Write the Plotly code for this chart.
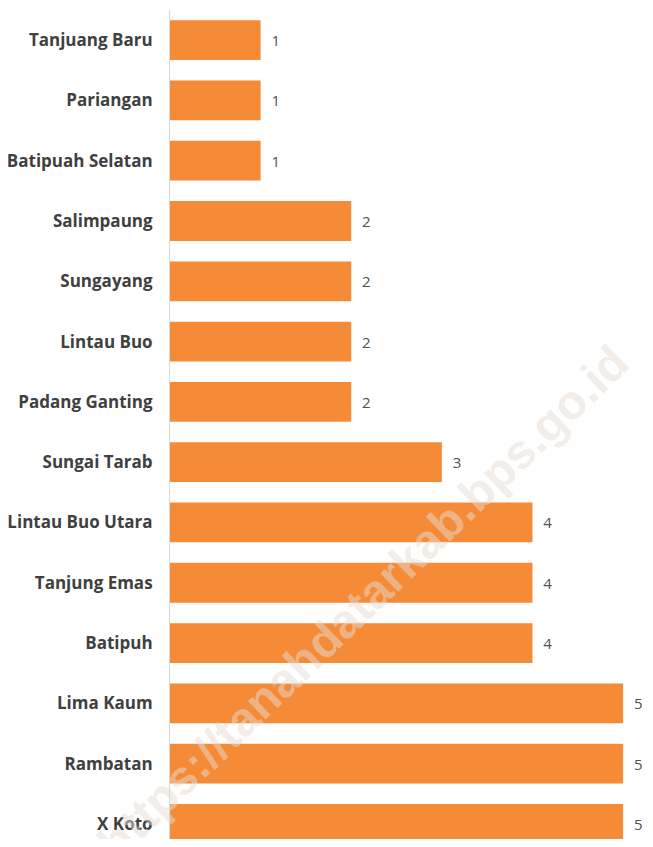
import plotly.graph_objects as go

# Kecamatan, ordered top to bottom as in the chart
kecamatan = [
    'Tanjuang Baru', 'Pariangan', 'Batipuah Selatan', 'Salimpaung',
    'Sungayang', 'Lintau Buo', 'Padang Ganting', 'Sungai Tarab',
    'Lintau Buo Utara', 'Tanjung Emas', 'Batipuh', 'Lima Kaum',
    'Rambatan', 'X Koto'
]
jumlah = [1, 1, 1, 2, 2, 2, 2, 3, 4, 4, 4, 5, 5, 5]

watermark = 'https://tanahdatarkab.bps.go.id'

fig = go.Figure()
fig.add_trace(
    go.Bar(
        x=jumlah,
        y=kecamatan,
        orientation='h',
        marker=dict(color='#F58B36', line=dict(width=0)),
        width=0.66,
        text=jumlah,
        texttemplate='\u00a0\u00a0%{x}',
        textposition='outside',
        textfont=dict(family='Open Sans', size=15, color='#505050'),
        cliponaxis=False,
    )
)
# Watermark
fig.add_annotation(
    text=watermark,
    xref='paper', yref='paper',
    x=0.40, y=0.285,
    xanchor='center', yanchor='middle',
    showarrow=False,
    textangle=-44,
    font=dict(family='Arial', size=48, color='rgba(232,220,212,0.5)', weight='bold'),
)
fig.update_xaxes(
    range=[0, 5.33],
    showgrid=False, zeroline=False, showticklabels=False, showline=False,
)
fig.update_yaxes(
    range=[13.25, -0.5],
    showgrid=False, zeroline=False,
    showline=True, linecolor='#D9D9D9', linewidth=1,
    ticks='', ticklabelstandoff=13,
    tickfont=dict(family='Open Sans', size=17, color='#404040', weight='bold'),
)
fig.update_layout(
    paper_bgcolor='#FFFFFF',
    plot_bgcolor='#FFFFFF',
    width=645, height=831,
    margin=dict(l=162, r=0, t=2, b=0),
    showlegend=False,
)
fig.write_html('out.html')
